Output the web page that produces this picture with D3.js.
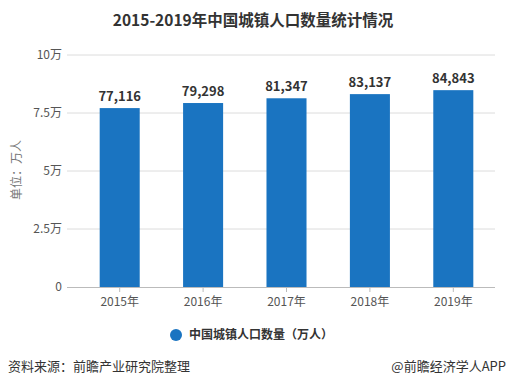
<!DOCTYPE html>
<html>
<head>
<meta charset="utf-8">
<script src="https://cdn.jsdelivr.net/npm/d3@7"></script>
<style>
    body { margin: 0; background: #fff; }
    svg { font-family: "Microsoft YaHei", "Noto Sans CJK SC", sans-serif; }
</style>
</head>
<body>
<script>
    const years = ["2015年", "2016年", "2017年", "2018年", "2019年"];
    const population = [77116, 79298, 81347, 83137, 84843];
    const yTicks = [0, 25000, 50000, 75000, 100000];
    const yTickLabels = ["0", "2.5万", "5万", "7.5万", "10万"];
    const seriesName = "中国城镇人口数量（万人）";

    const width = 508, height = 389;
    const barColor = "#1a74c1";

    const svg = d3.select("body").append("svg")
        .attr("width", width)
        .attr("height", height);

    const x = d3.scaleBand()
        .domain(years)
        .range([78, 495])
        .paddingInner(0.52)
        .paddingOuter(0.26);

    const y = d3.scaleLinear()
        .domain([0, 100000])
        .range([287, 55]);

    // title
    svg.append("text")
        .attr("x", 253)
        .attr("y", 26)
        .attr("text-anchor", "middle")
        .attr("font-size", 15.5)
        .attr("font-weight", "bold")
        .attr("fill", "#333")
        .text("2015-2019年中国城镇人口数量统计情况");

    // grid
    svg.append("g")
        .selectAll("line")
        .data(yTicks.slice(1))
        .join("line")
        .attr("x1", 67).attr("x2", 495)
        .attr("y1", d => y(d)).attr("y2", d => y(d))
        .attr("stroke", "#dcdcdc")
        .attr("stroke-width", 1);

    // y labels
    svg.append("g")
        .selectAll("text")
        .data(yTicks)
        .join("text")
        .attr("x", 62)
        .attr("y", d => y(d))
        .attr("dy", "0.35em")
        .attr("text-anchor", "end")
        .attr("font-size", 12)
        .attr("fill", "#555")
        .text((d, i) => yTickLabels[i]);

    svg.append("text")
        .attr("transform", "translate(21,170) rotate(-90)")
        .attr("text-anchor", "middle")
        .attr("font-size", 12)
        .attr("fill", "#777")
        .text("单位：万人");

    // bars
    svg.append("g")
        .selectAll("rect")
        .data(population)
        .join("rect")
        .attr("x", (d, i) => x(years[i]))
        .attr("y", d => y(d))
        .attr("width", x.bandwidth())
        .attr("height", d => y(0) - y(d))
        .attr("fill", barColor);

    // value labels
    svg.append("g")
        .selectAll("text")
        .data(population)
        .join("text")
        .attr("x", (d, i) => x(years[i]) + x.bandwidth() / 2)
        .attr("y", d => y(d) - 7)
        .attr("text-anchor", "middle")
        .attr("font-size", 13)
        .attr("font-weight", "bold")
        .attr("fill", "#333")
        .text(d => d3.format(",")(d));

    // x axis
    const xAxis = svg.append("g")
        .attr("transform", `translate(0,${y(0)})`)
        .call(d3.axisBottom(x).tickSize(5).tickPadding(5).tickSizeOuter(0));
    xAxis.select(".domain").attr("stroke", "#bbb").attr("d", "M67,0.5H495");
    xAxis.selectAll(".tick line").attr("stroke", "#bbb");
    xAxis.selectAll(".tick text")
        .attr("font-size", 12)
        .attr("fill", "#555")
        .attr("font-family", "\"Microsoft YaHei\", \"Noto Sans CJK SC\", sans-serif");

    // legend
    svg.append("circle")
        .attr("cx", 176).attr("cy", 335).attr("r", 6)
        .attr("fill", barColor);
    svg.append("text")
        .attr("x", 189).attr("y", 335)
        .attr("dy", "0.35em")
        .attr("font-size", 12)
        .attr("font-weight", "bold")
        .attr("fill", "#333")
        .text(seriesName);

    // footer
    svg.append("text")
        .attr("x", 8).attr("y", 366)
        .attr("dy", "0.35em")
        .attr("font-size", 13)
        .attr("fill", "#333")
        .text("资料来源：前瞻产业研究院整理");
    svg.append("text")
        .attr("x", 506).attr("y", 366)
        .attr("dy", "0.35em")
        .attr("text-anchor", "end")
        .attr("font-size", 13)
        .attr("fill", "#333")
        .text("@前瞻经济学人APP");
</script>
</body>
</html>
